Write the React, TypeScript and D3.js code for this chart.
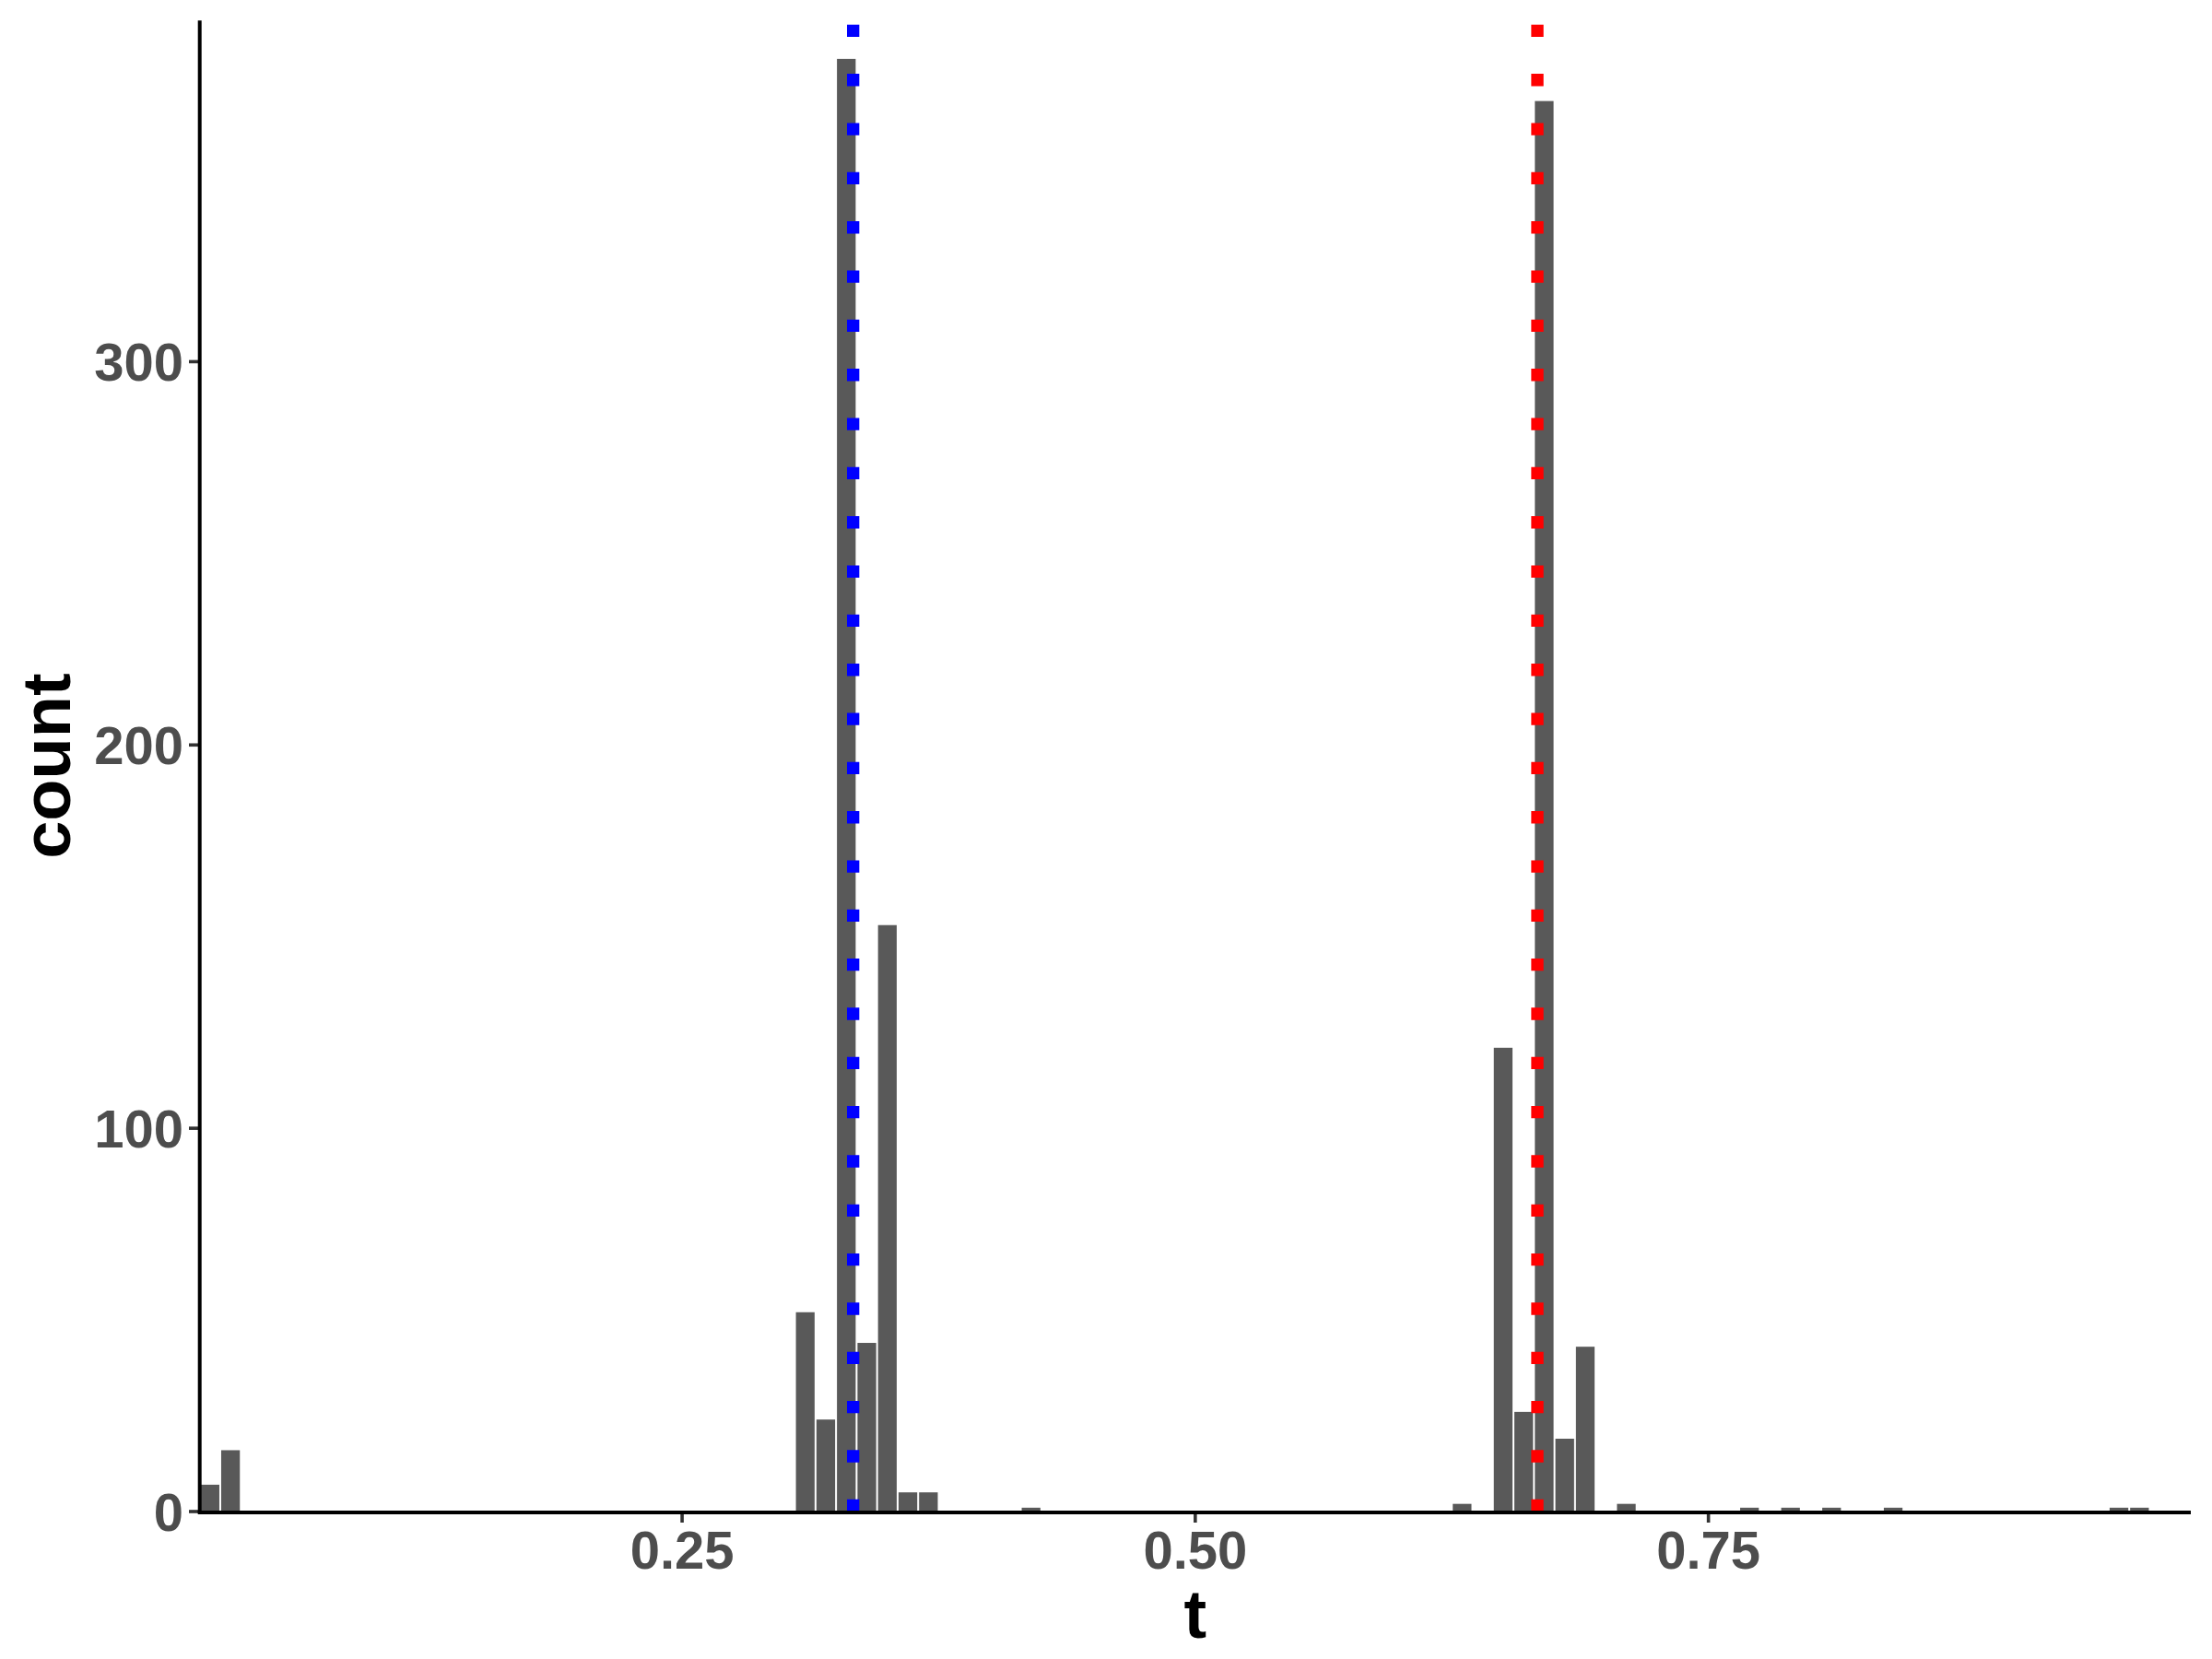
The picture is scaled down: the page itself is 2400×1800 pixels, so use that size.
import React from "react";
import * as d3 from "d3";

// bin centers (binwidth 0.01) and counts
const binCenters = [0.02, 0.03, 0.31, 0.32, 0.33, 0.34, 0.35, 0.36, 0.37, 0.42, 0.63, 0.65, 0.66, 0.67, 0.68, 0.69, 0.71, 0.77, 0.79, 0.81, 0.84, 0.95, 0.96];
const counts = [7, 16, 52, 24, 379, 44, 153, 5, 5, 1, 2, 121, 26, 368, 19, 43, 2, 1, 1, 1, 1, 1, 1];
const binWidth = 0.01;
const xTicks = [0.25, 0.5, 0.75];
const yTicks = [0, 100, 200, 300];
const vLines = [
  { value: 1 / 3, color: "#0000FF" },
  { value: 2 / 3, color: "#FF0000" },
];

const W = 2400;
const H = 1800;
const left = 216.7;
const right = 2377;
const top = 22.3;
const bottom = 1640;

export default function App() {
  const x = d3.scaleLinear().domain([0.015, 0.985]).range([left, right]);
  const y = d3.scaleLinear().domain([0, 389]).range([bottom, top]);
  const font = "'Liberation Sans', Arial, sans-serif";

  return (
    <svg
      width={W}
      height={H}
      style={{ position: "absolute", left: 0, top: 0, background: "#fff" }}
      fontFamily={font}
    >
      <rect x={0} y={0} width={W} height={H} fill="#fff" />
      <g>
        {binCenters.map((c, i) => {
          const x0 = x(c - binWidth / 2);
          const x1 = x(c + binWidth / 2);
          const y1 = y(counts[i]);
          return (
            <rect
              key={i}
              x={x0 + 1}
              y={y1}
              width={x1 - x0 - 2}
              height={bottom - y1}
              fill="#595959"
            />
          );
        })}
      </g>
      <g>
        {vLines.map((v, i) => (
          <line
            key={i}
            x1={x(v.value)}
            x2={x(v.value)}
            y1={bottom}
            y2={top}
            stroke={v.color}
            strokeWidth={13.33}
            strokeDasharray="13.33 40"
            strokeLinecap="butt"
          />
        ))}
      </g>
      {/* y axis */}
      <g>
        {yTicks.map((t) => (
          <g key={t}>
            <line x1={205} x2={left} y1={y(t)} y2={y(t)} stroke="#333333" strokeWidth={3.6} />
            <text
              x={199}
              y={y(t)}
              dy="0.36em"
              textAnchor="end"
              fontSize={58}
              fontWeight="bold"
              fill="#4D4D4D"
            >
              {t}
            </text>
          </g>
        ))}
        <line x1={left} x2={left} y1={top} y2={bottom + 2} stroke="#000" strokeWidth={4} />
      </g>
      {/* x axis */}
      <g>
        {xTicks.map((t) => (
          <g key={t}>
            <line x1={x(t)} x2={x(t)} y1={bottom} y2={1652} stroke="#333333" strokeWidth={3.6} />
            <text
              x={x(t)}
              y={1702}
              textAnchor="middle"
              fontSize={58}
              fontWeight="bold"
              fill="#4D4D4D"
            >
              {d3.format(".2f")(t)}
            </text>
          </g>
        ))}
        <line x1={left - 2} x2={right} y1={bottom + 1} y2={bottom + 1} stroke="#000" strokeWidth={4} />
      </g>
      <text
        x={(left + right) / 2}
        y={1777}
        textAnchor="middle"
        fontSize={74}
        fontWeight="bold"
        fill="#000"
      >
        t
      </text>
      <text
        transform={`translate(76, ${(top + bottom) / 2}) rotate(-90)`}
        textAnchor="middle"
        fontSize={74}
        fontWeight="bold"
        fill="#000"
      >
        count
      </text>
    </svg>
  );
}
